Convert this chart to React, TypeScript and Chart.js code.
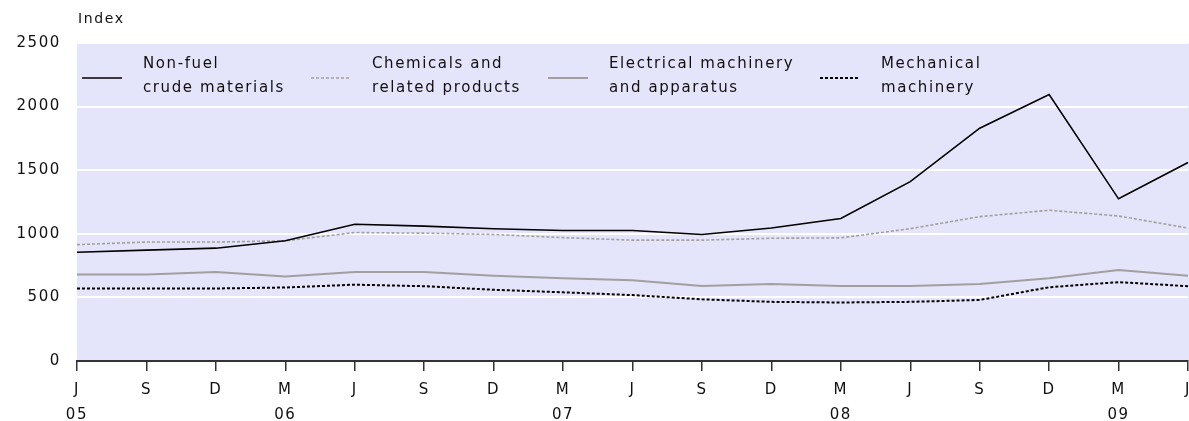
import React, { useEffect, useRef } from "react";
import { Chart, registerables } from "chart.js";

Chart.register(...registerables);

// Quarterly categories (June 2005 – June 2009)
const months = ["J", "S", "D", "M", "J", "S", "D", "M", "J", "S", "D", "M", "J", "S", "D", "M", "J"];
const years = ["05", "", "", "06", "", "", "", "07", "", "", "", "08", "", "", "", "09", ""];

// Series values (Index)
const nonFuelCrude = [855, 872, 887, 945, 1075, 1060, 1040, 1026, 1026, 995, 1045, 1120, 1410, 1830, 2095, 1275, 1560];
const chemicals = [915, 935, 935, 945, 1010, 1005, 995, 970, 950, 950, 965, 968, 1040, 1135, 1185, 1140, 1045];
const electrical = [680, 680, 700, 665, 700, 700, 670, 650, 635, 590, 605, 590, 590, 605, 650, 715, 670];
const mechanical = [570, 570, 570, 578, 600, 588, 560, 540, 518, 485, 465, 460, 465, 480, 580, 620, 588];

// Legend names (two lines each)
const seriesNames = [
  ["Non-fuel", "crude materials"],
  ["Chemicals and", "related products"],
  ["Electrical machinery", "and apparatus"],
  ["Mechanical", "machinery"],
];

const yTicks = [0, 500, 1000, 1500, 2000, 2500];
const unitLabel = "Index";

const FONT = "'DejaVu Sans', Verdana, sans-serif";
const SPACING = "1.6px";
const PLOT_BG = "rgb(228,228,250)";

export default function App() {
  const canvasRef = useRef<HTMLCanvasElement | null>(null);

  useEffect(() => {
    const canvas = canvasRef.current;
    if (!canvas) return;

    const spacingPlugin = {
      id: "spacing",
      beforeUpdate(chart: any) {
        chart.ctx.letterSpacing = SPACING;
      },
      beforeDraw(chart: any) {
        chart.ctx.letterSpacing = SPACING;
        const { ctx, chartArea } = chart;
        ctx.save();
        ctx.fillStyle = PLOT_BG;
        ctx.fillRect(chartArea.left, chartArea.top, chartArea.right - chartArea.left + 2, chartArea.bottom - chartArea.top);
        ctx.restore();
      },
    };

    const legendX = [82, 311, 548, 820];
    const legendPlugin = {
      id: "customLegend",
      afterDraw(chart: any) {
        const ctx = chart.ctx;
        ctx.save();
        ctx.letterSpacing = SPACING;
        ctx.fillStyle = "#111";
        ctx.textBaseline = "middle";
        ctx.textAlign = "left";
        ctx.font = `14px ${FONT}`;
        ctx.fillText(unitLabel, 78, 19);
        ctx.font = `15px ${FONT}`;
        chart.data.datasets.forEach((ds: any, i: number) => {
          const x = legendX[i];
          ctx.save();
          ctx.strokeStyle = ds.borderColor;
          ctx.lineWidth = ds.borderWidth;
          ctx.setLineDash(ds.borderDash || []);
          ctx.beginPath();
          ctx.moveTo(x, 78);
          ctx.lineTo(x + 40, 78);
          ctx.stroke();
          ctx.restore();
          const lines = seriesNames[i];
          ctx.fillText(lines[0], x + 61, 64);
          ctx.fillText(lines[1], x + 61, 88);
        });
        ctx.restore();
      },
    };

    const chart = new Chart(canvas, {
      type: "line",
      data: {
        labels: months.map((m, i) => [m, years[i]]),
        datasets: [
          {
            label: seriesNames[0].join(" "),
            data: nonFuelCrude,
            borderColor: "#000000",
            borderWidth: 1.6,
            pointRadius: 0,
            tension: 0,
          },
          {
            label: seriesNames[1].join(" "),
            data: chemicals,
            borderColor: "#a0a0a0",
            borderWidth: 1.6,
            borderDash: [3, 2],
            pointRadius: 0,
            tension: 0,
          },
          {
            label: seriesNames[2].join(" "),
            data: electrical,
            borderColor: "#a0a0a0",
            borderWidth: 2,
            pointRadius: 0,
            tension: 0,
          },
          {
            label: seriesNames[3].join(" "),
            data: mechanical,
            borderColor: "#000000",
            borderWidth: 2,
            borderDash: [3, 2],
            pointRadius: 0,
            tension: 0,
          },
        ],
      },
      options: {
        responsive: false,
        animation: false,
        layout: { padding: { top: 43, right: 1, bottom: 0, left: 0 } },
        plugins: {
          legend: { display: false },
          tooltip: { enabled: false },
          title: { display: false },
        },
        scales: {
          x: {
            type: "category",
            offset: false,
            grid: {
              drawOnChartArea: false,
              drawTicks: true,
              tickLength: 10,
              color: "#333",
              lineWidth: 1.5,
            },
            border: { display: true, color: "#333", width: 2 },
            ticks: {
              autoSkip: false,
              maxRotation: 0,
              minRotation: 0,
              padding: 6,
              color: "#111",
              font: { family: FONT, size: 15, lineHeight: 1.7 },
            },
            afterFit(scale: any) {
              scale.height = 60;
              scale.paddingLeft = 0;
              scale.paddingRight = 0;
            },
          },
          y: {
            min: 0,
            max: 2500,
            afterBuildTicks(scale: any) {
              scale.ticks = yTicks.map((v) => ({ value: v }));
            },
            ticks: {
              padding: 16,
              color: "#111",
              font: { family: FONT, size: 15 },
              callback: (v: any) => String(v),
            },
            grid: {
              drawTicks: false,
              lineWidth: 2,
              color: (c: any) => (c.tick && c.tick.value === 0 ? "rgba(0,0,0,0)" : "#ffffff"),
            },
            border: { display: false },
            afterFit(scale: any) {
              scale.width = 77;
            },
          },
        },
      },
      plugins: [spacingPlugin, legendPlugin],
    } as any);

    return () => chart.destroy();
  }, []);

  return (
    <div style={{ position: "absolute", left: 0, top: 0, width: 1189, height: 421 }}>
      <canvas ref={canvasRef} width={1189} height={421} style={{ display: "block" }} />
    </div>
  );
}
